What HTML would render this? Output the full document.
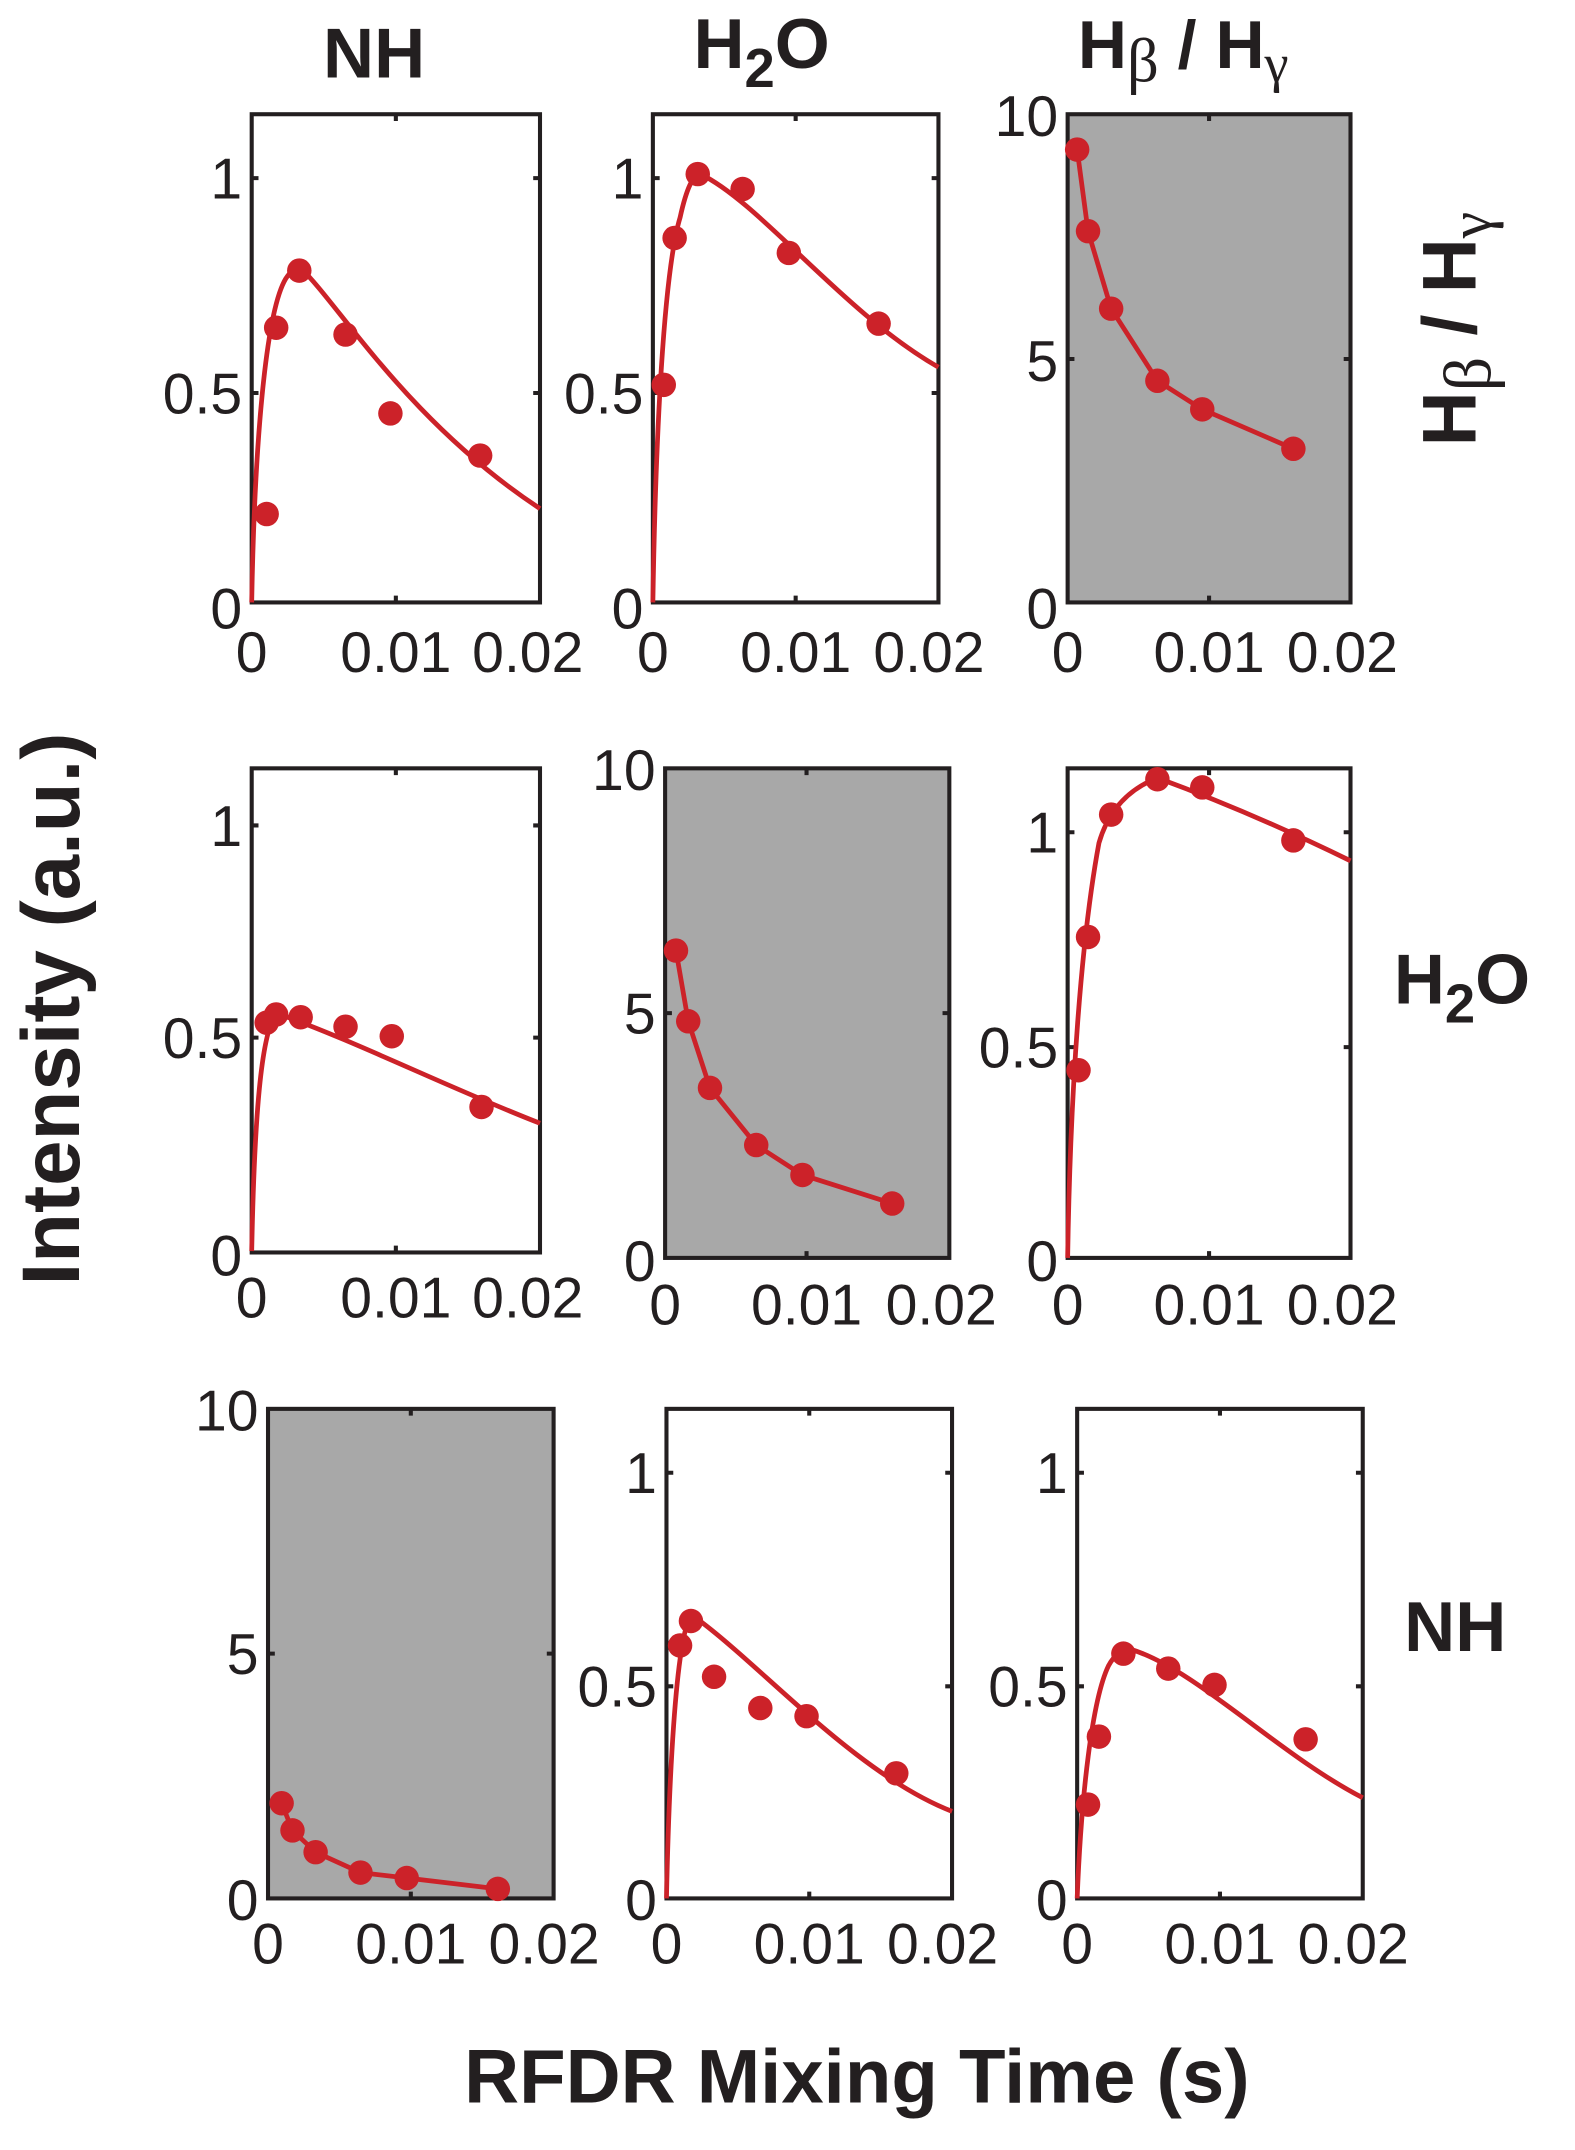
<!DOCTYPE html>
<html><head><meta charset="utf-8"><style>
html,body{margin:0;padding:0;background:#fff;}
svg{display:block;}
text{font-family:"Liberation Sans",sans-serif;fill:#231f20;}
.t{font-size:42px;}
.b{font-weight:bold;}
</style></head><body>
<svg width="1575" height="2150" viewBox="0 0 1158 1581" xmlns="http://www.w3.org/2000/svg">
<g stroke="#231f20" stroke-width="3" fill="none">
<rect x="185" y="84" width="212" height="359" fill="#fff"/>
<rect x="480" y="84" width="210" height="359" fill="#fff"/>
<rect x="785" y="84" width="208" height="359" fill="#a8a8a8"/>
<rect x="185" y="565" width="212" height="356" fill="#fff"/>
<rect x="489" y="565" width="209" height="360" fill="#a8a8a8"/>
<rect x="785" y="565" width="208" height="360" fill="#fff"/>
<rect x="197" y="1036" width="210" height="360" fill="#a8a8a8"/>
<rect x="490" y="1036" width="210" height="360" fill="#fff"/>
<rect x="792" y="1036" width="210" height="360" fill="#fff"/>
</g>
<g stroke="#231f20" stroke-width="3">
<path d="M291,84v5M291,443v-5M185,131h5M397,131h-5M185,289h5M397,289h-5"/>
<path d="M585,84v5M585,443v-5M480,131h5M690,131h-5M480,289h5M690,289h-5"/>
<path d="M889,84v5M889,443v-5M785,264h5M993,264h-5"/>
<path d="M291,565v5M291,921v-5M185,607h5M397,607h-5M185,763h5M397,763h-5"/>
<path d="M593,565v5M593,925v-5M489,745h5M698,745h-5"/>
<path d="M889,565v5M889,925v-5M785,612h5M993,612h-5M785,770h5M993,770h-5"/>
<path d="M302,1036v5M302,1396v-5M197,1216h5M407,1216h-5"/>
<path d="M595,1036v5M595,1396v-5M490,1083h5M700,1083h-5M490,1240h5M700,1240h-5"/>
<path d="M897,1036v5M897,1396v-5M792,1083h5M1002,1083h-5M792,1240h5M1002,1240h-5"/>
</g>
<g stroke="#cc2229" stroke-width="3.5" fill="none" stroke-linejoin="round">
<path d="M185,443 C187,330 195,230 210,205 Q215,197 221,197 C250,225 300,310 397,374"/>
<path d="M480,443 C482,320 488,200 500,160 Q507,128 515,128 C560,150 620,230 690,270"/>
<polyline points="792,110 800,170 817,227 851,280 884,301 951,330"/>
<path d="M185,920 C187,820 192,760 203,745 C260,765 330,800 397,826"/>
<polyline points="497,699 506,751 522,800 556,842 590,864 656,885"/>
<path d="M785,925 C787,800 795,690 808,620 Q818,585 851,572 C900,590 950,612 993,633"/>
<polyline points="207,1326 215,1346 232,1362 265,1377 299,1381 366,1389"/>
<path d="M490,1396 C492,1300 497,1220 505,1195 Q508,1188 512,1190 C560,1225 630,1305 700,1332"/>
<path d="M792,1396 C795,1320 803,1250 815,1225 Q822,1212 832,1213 C880,1228 940,1290 1002,1322"/>
</g>
<g fill="#cc2229">
<circle cx="196" cy="378" r="9"/><circle cx="203" cy="241" r="9"/><circle cx="220" cy="199" r="9"/><circle cx="254" cy="246" r="9"/><circle cx="287" cy="304" r="9"/><circle cx="353" cy="335" r="9"/>
<circle cx="488" cy="283" r="9"/><circle cx="496" cy="175" r="9"/><circle cx="513" cy="128" r="9"/><circle cx="546" cy="139" r="9"/><circle cx="580" cy="186" r="9"/><circle cx="646" cy="238" r="9"/>
<circle cx="792" cy="110" r="9"/><circle cx="800" cy="170" r="9"/><circle cx="817" cy="227" r="9"/><circle cx="851" cy="280" r="9"/><circle cx="884" cy="301" r="9"/><circle cx="951" cy="330" r="9"/>
<circle cx="196" cy="752" r="9"/><circle cx="203" cy="746" r="9"/><circle cx="221" cy="748" r="9"/><circle cx="254" cy="755" r="9"/><circle cx="288" cy="762" r="9"/><circle cx="354" cy="814" r="9"/>
<circle cx="497" cy="699" r="9"/><circle cx="506" cy="751" r="9"/><circle cx="522" cy="800" r="9"/><circle cx="556" cy="842" r="9"/><circle cx="590" cy="864" r="9"/><circle cx="656" cy="885" r="9"/>
<circle cx="793" cy="787" r="9"/><circle cx="800" cy="689" r="9"/><circle cx="817" cy="599" r="9"/><circle cx="851" cy="573" r="9"/><circle cx="884" cy="579" r="9"/><circle cx="951" cy="618" r="9"/>
<circle cx="207" cy="1326" r="9"/><circle cx="215" cy="1346" r="9"/><circle cx="232" cy="1362" r="9"/><circle cx="265" cy="1377" r="9"/><circle cx="299" cy="1381" r="9"/><circle cx="366" cy="1389" r="9"/>
<circle cx="500" cy="1210" r="9"/><circle cx="508" cy="1192" r="9"/><circle cx="525" cy="1233" r="9"/><circle cx="559" cy="1256" r="9"/><circle cx="593" cy="1262" r="9"/><circle cx="659" cy="1304" r="9"/>
<circle cx="800" cy="1327" r="9"/><circle cx="808" cy="1277" r="9"/><circle cx="826" cy="1216" r="9"/><circle cx="859" cy="1227" r="9"/><circle cx="893" cy="1239" r="9"/><circle cx="960" cy="1279" r="9"/>
</g>
<g class="t">
<text x="178" y="146" text-anchor="end">1</text><text x="178" y="304" text-anchor="end">0.5</text><text x="178" y="462" text-anchor="end">0</text>
<text x="185" y="494" text-anchor="middle">0</text><text x="291" y="494" text-anchor="middle">0.01</text><text x="388" y="494" text-anchor="middle">0.02</text>
<text x="473" y="146" text-anchor="end">1</text><text x="473" y="304" text-anchor="end">0.5</text><text x="473" y="462" text-anchor="end">0</text>
<text x="480" y="494" text-anchor="middle">0</text><text x="585" y="494" text-anchor="middle">0.01</text><text x="683" y="494" text-anchor="middle">0.02</text>
<text x="778" y="100" text-anchor="end">10</text><text x="778" y="280" text-anchor="end">5</text><text x="778" y="462" text-anchor="end">0</text>
<text x="785" y="494" text-anchor="middle">0</text><text x="889" y="494" text-anchor="middle">0.01</text><text x="987" y="494" text-anchor="middle">0.02</text>

<text x="178" y="622" text-anchor="end">1</text><text x="178" y="778" text-anchor="end">0.5</text><text x="178" y="938" text-anchor="end">0</text>
<text x="185" y="969" text-anchor="middle">0</text><text x="291" y="969" text-anchor="middle">0.01</text><text x="388" y="969" text-anchor="middle">0.02</text>
<text x="482" y="581" text-anchor="end">10</text><text x="482" y="760" text-anchor="end">5</text><text x="482" y="942" text-anchor="end">0</text>
<text x="489" y="974" text-anchor="middle">0</text><text x="593" y="974" text-anchor="middle">0.01</text><text x="692" y="974" text-anchor="middle">0.02</text>
<text x="778" y="627" text-anchor="end">1</text><text x="778" y="785" text-anchor="end">0.5</text><text x="778" y="942" text-anchor="end">0</text>
<text x="785" y="974" text-anchor="middle">0</text><text x="889" y="974" text-anchor="middle">0.01</text><text x="987" y="974" text-anchor="middle">0.02</text>

<text x="190" y="1052" text-anchor="end">10</text><text x="190" y="1231" text-anchor="end">5</text><text x="190" y="1412" text-anchor="end">0</text>
<text x="197" y="1444" text-anchor="middle">0</text><text x="302" y="1444" text-anchor="middle">0.01</text><text x="400" y="1444" text-anchor="middle">0.02</text>
<text x="483" y="1098" text-anchor="end">1</text><text x="483" y="1255" text-anchor="end">0.5</text><text x="483" y="1412" text-anchor="end">0</text>
<text x="490" y="1444" text-anchor="middle">0</text><text x="595" y="1444" text-anchor="middle">0.01</text><text x="693" y="1444" text-anchor="middle">0.02</text>
<text x="785" y="1098" text-anchor="end">1</text><text x="785" y="1255" text-anchor="end">0.5</text><text x="785" y="1412" text-anchor="end">0</text>
<text x="792" y="1444" text-anchor="middle">0</text><text x="897" y="1444" text-anchor="middle">0.01</text><text x="995" y="1444" text-anchor="middle">0.02</text>
</g>
<text class="b" x="275" y="57" font-size="52" text-anchor="middle">NH</text>
<text class="b" x="560" y="50" font-size="52" text-anchor="middle">H<tspan font-size="40" dy="14">2</tspan><tspan dy="-14">O</tspan></text>
<text class="b" x="870" y="50" font-size="50" text-anchor="middle">H<tspan font-family="Liberation Serif,serif" font-weight="normal" font-size="46" dy="10">β</tspan><tspan dy="-10"> / H</tspan><tspan font-family="Liberation Serif,serif" font-weight="normal" font-size="40" dy="10">γ</tspan></text>
<text class="b" x="0" y="0" font-size="56" text-anchor="middle" transform="translate(1085,242) rotate(-90)">H<tspan font-family="Liberation Serif,serif" font-weight="normal" font-size="50" dy="11">β</tspan><tspan dy="-11"> / H</tspan><tspan font-family="Liberation Serif,serif" font-weight="normal" font-size="44" dy="11">γ</tspan></text>
<text class="b" x="1075" y="738" font-size="52" text-anchor="middle">H<tspan font-size="40" dy="14">2</tspan><tspan dy="-14">O</tspan></text>
<text class="b" x="1070" y="1214" font-size="52" text-anchor="middle">NH</text>
<text class="b" x="0" y="0" font-size="60" text-anchor="middle" transform="translate(58,742) rotate(-90)">Intensity (a.u.)</text>
<text class="b" x="630" y="1546" font-size="56" text-anchor="middle">RFDR Mixing Time (s)</text>
</svg>
</body></html>
